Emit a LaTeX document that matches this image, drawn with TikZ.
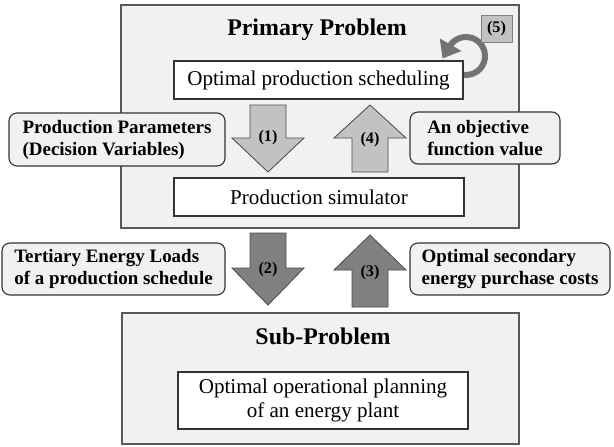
\documentclass[tikz,border=0pt]{standalone}
\usepackage{fontspec}
\setmainfont{Liberation Serif}
\usetikzlibrary{backgrounds}
\usetikzlibrary{calc}
\usetikzlibrary{arrows.meta}
\definecolor{pnlfill}{gray}{0.945}
\definecolor{pnledge}{gray}{0.35}
\definecolor{notedge}{gray}{0.2}
\definecolor{arrlight}{gray}{0.76}
\definecolor{arrdark}{gray}{0.5}
\definecolor{arredge}{gray}{0.3}
\definecolor{loopgray}{gray}{0.45}
\newcommand{\blkshaft}{18}
\newcommand{\blkhead}{36}
\newcommand{\colfwd}{268}
\newcommand{\colbwd}{370}
\newcommand{\blkdown}[5]{% fill, x, top, neck, tip
  \filldraw[blkarrow, fill=#1]
    (#2-\blkshaft, #3) -- (#2+\blkshaft, #3)
    -- (#2+\blkshaft, #4) -- (#2+\blkhead, #4)
    -- (#2, #5) -- (#2-\blkhead, #4)
    -- (#2-\blkshaft, #4) -- cycle;}
\newcommand{\blkup}[5]{% fill, x, tip, neck, bottom
  \filldraw[blkarrow, fill=#1]
    (#2, #3) -- (#2+\blkhead, #4) -- (#2+\blkshaft, #4)
    -- (#2+\blkshaft, #5) -- (#2-\blkshaft, #5)
    -- (#2-\blkshaft, #4) -- (#2-\blkhead, #4) -- cycle;}

\begin{document}
\begin{tikzpicture}[x=0.025cm, y=-0.025cm,
    panel/.style={draw=pnledge, fill=pnlfill, line width=0.8pt, inner sep=0pt},
    taskbox/.style={draw=notedge, fill=white, line width=0.8pt, inner sep=0pt,
      align=center, font=\fontsize{15}{17}\selectfont},
    notebox/.style={draw=notedge, fill=pnlfill, line width=0.8pt,
      rounded corners=0.2cm, inner sep=0pt, align=left,
      font=\fontsize{13.5}{15.6}\selectfont\bfseries},
    title/.style={anchor=base, font=\fontsize{17}{20}\selectfont\bfseries},
    stepno/.style={font=\fontsize{11.5}{12}\selectfont\bfseries},
    blkarrow/.style={draw=arredge, line width=0.6pt},
    loopline/.style={draw=loopgray, line width=0.15cm,
      -{Triangle[width=0.6cm,length=0.4cm]}}]
  \useasboundingbox (0,0) rectangle (614,447);

  \begin{scope}[on background layer]
    \node[panel, minimum width=9.95cm, minimum height=5.575cm]
      (primary) at (320,116.5) {};
    \node[panel, minimum width=9.925cm, minimum height=3.275cm]
      (sub) at (320.5,378.5) {};
    \coordinate (loopc) at (466,56);
    \draw[loopline] (loopc) ++(110:19)
      arc[start angle=110, end angle=-150, radius=19] -- ++(-7,12);
  \end{scope}

  \node[title] (primtitle) at (317,35) {Primary Problem};
  \node[title] (subtitle) at (323,344) {Sub-Problem};
  \node[draw=gray, fill=arrlight, line width=0.6pt, inner sep=0pt,
    minimum width=0.775cm, minimum height=0.675cm, stepno]
    (loopno) at (496.5,28.5) {(5)};

  \node[taskbox, minimum width=7.225cm, minimum height=0.95cm]
    (sched) at (318.5,80) {Optimal production scheduling};
  \node[taskbox, minimum width=7.25cm, minimum height=0.95cm]
    (sim) at (319,197) {Production simulator};
  \node[taskbox, minimum width=7.25cm, minimum height=1.425cm]
    (plant) at (323,400.5) {Optimal operational planning\\of an energy plant};

  \node[notebox, minimum width=5.4cm, minimum height=1.325cm]
    (params) at (117,139.5) {Production Parameters\\(Decision Variables)};
  \node[notebox, minimum width=3.75cm, minimum height=1.3cm]
    (objval) at (485,138) {An objective\\function value};
  \node[notebox, minimum width=5.575cm, minimum height=1.3cm]
    (loads) at (113.5,269) {Tertiary Energy Loads\\of a production schedule};
  \node[notebox, minimum width=5cm, minimum height=1.3cm]
    (costs) at (510,269) {Optimal secondary\\energy purchase costs};

  % block arrows between the levels
  \blkdown{arrlight}{\colfwd}{105}{138}{172}
  \blkup{arrlight}{\colbwd}{105}{138}{172}
  \blkdown{arrdark}{\colfwd}{233}{268}{305}
  \blkup{arrdark}{\colbwd}{235}{270}{307}

  \node[stepno] (stepa) at (\colfwd,138) {(1)};
  \node[stepno] (stepd) at (\colbwd,140) {(4)};
  \node[stepno] (stepb) at (\colfwd,270) {(2)};
  \node[stepno] (stepc) at (\colbwd,273) {(3)};
\end{tikzpicture}
\end{document}
